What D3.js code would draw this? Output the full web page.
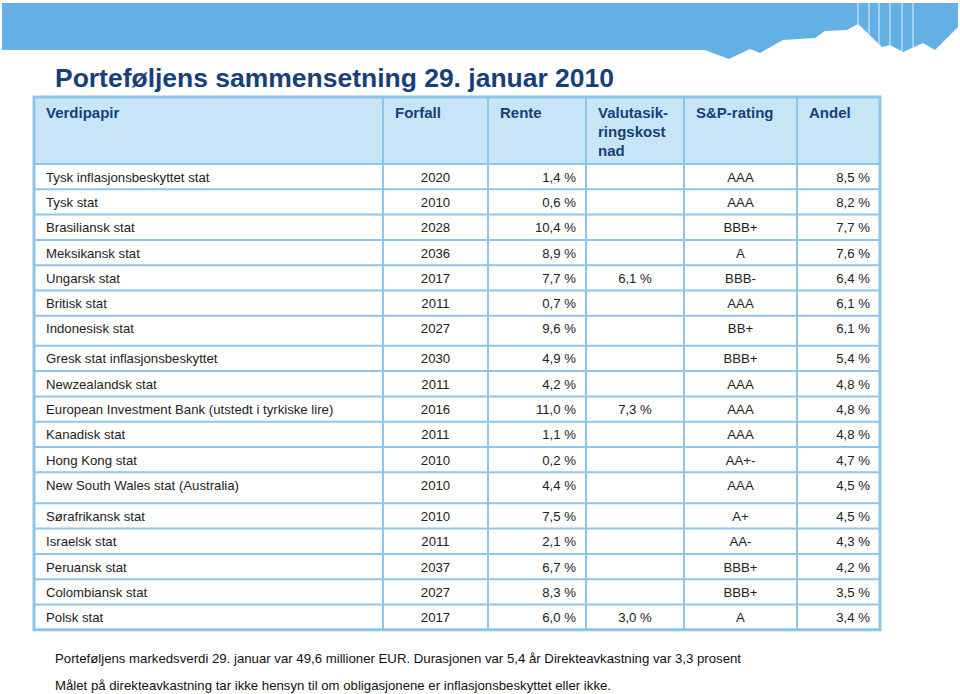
<!DOCTYPE html>
<html>
<head>
<meta charset="utf-8">
<script src="https://cdn.jsdelivr.net/npm/d3@7"></script>
<style>
  html, body { margin: 0; padding: 0; background: #fff; }
  svg { display: block; }
</style>
</head>
<body>
<div id="chart"></div>
<script>
// ---------- data ----------
const title = "Porteføljens sammensetning 29. januar 2010";
const headers = [["Verdipapir"], ["Forfall"], ["Rente"], ["Valutasik-", "ringskost", "nad"], ["S&P-rating"], ["Andel"]];
const securities = [
  "Tysk inflasjonsbeskyttet stat", "Tysk stat", "Brasiliansk stat", "Meksikansk stat",
  "Ungarsk stat", "Britisk stat", "Indonesisk stat", "Gresk stat inflasjonsbeskyttet",
  "Newzealandsk stat", "European Investment Bank (utstedt i tyrkiske lire)", "Kanadisk stat",
  "Hong Kong stat", "New South Wales stat (Australia)", "Sørafrikansk stat", "Israelsk stat",
  "Peruansk stat", "Colombiansk stat", "Polsk stat"
];
const maturities = [2020, 2010, 2028, 2036, 2017, 2011, 2027, 2030, 2011, 2016, 2011, 2010, 2010, 2010, 2011, 2037, 2027, 2017];
const coupons = [1.4, 0.6, 10.4, 8.9, 7.7, 0.7, 9.6, 4.9, 4.2, 11.0, 1.1, 0.2, 4.4, 7.5, 2.1, 6.7, 8.3, 6.0];
const hedgeCosts = [null, null, null, null, 6.1, null, null, null, null, 7.3, null, null, null, null, null, null, null, 3.0];
const ratings = ["AAA", "AAA", "BBB+", "A", "BBB-", "AAA", "BB+", "BBB+", "AAA", "AAA", "AAA", "AA+-", "AAA", "A+", "AA-", "BBB+", "BBB+", "A"];
const shares = [8.5, 8.2, 7.7, 7.6, 6.4, 6.1, 6.1, 5.4, 4.8, 4.8, 4.8, 4.7, 4.5, 4.5, 4.3, 4.2, 3.5, 3.4];
const footnotes = [
  "Porteføljens markedsverdi 29. januar var 49,6 millioner EUR. Durasjonen var 5,4 år Direkteavkastning var 3,3 prosent",
  "Målet på direkteavkastning tar ikke hensyn til om obligasjonene er inflasjonsbeskyttet eller ikke."
];

// ---------- layout ----------
const W = 960, H = 694;
const colEdges = [34, 383, 488, 586, 684, 797, 880];
const headerTop = 97, headerBottom = 164;
const baseRow = 25.3;
const tallRows = {6: 30, 12: 31};
const rowH = securities.map((d, i) => tallRows[i] || baseRow);
const rowTops = [];
{ let y = headerBottom; rowH.forEach(h => { rowTops.push(y); y += h; }); rowTops.push(y); }

const fmtPct = v => d3.format(".1f")(v).replace(".", ",") + " %";

const blue = "#62b0e4";
const border = "#8ec5ea";
const headFill = "#c8e5f8";
const navy = "#173f7a";
const textCol = "#222";
const fontBody = "'Liberation Sans', Arial, Helvetica, sans-serif";

const svg = d3.select("#chart").append("svg").attr("width", W).attr("height", H);

// ---------- banner ----------
const bannerPts = [[2,3],[958,3],[958,27],[935,50],[923,43],[903,52],[890,45],[882,47],[858,24],[847,30],[825,31],[815,38],[783,40],[760,53],[750,49],[729,59],[705,50],[2,50]];
svg.append("path").attr("d", d3.line()(bannerPts) + "Z").attr("fill", blue);
const stripeXs = [858, 869, 879, 890, 902, 913];
// bottom y of the banner at a given x (from the outline)
function bannerBottom(x) {
  const pts = bannerPts.slice(2).reverse(); // left to right along bottom
  const sorted = pts.slice().sort((a, b) => a[0] - b[0]);
  for (let i = 0; i < sorted.length - 1; i++) {
    const a = sorted[i], b = sorted[i + 1];
    if (x >= a[0] && x <= b[0]) return a[1] + (b[1] - a[1]) * (x - a[0]) / (b[0] - a[0] || 1);
  }
  return 50;
}
svg.selectAll("line.stripe").data(stripeXs).join("line")
  .attr("class", "stripe")
  .attr("x1", d => d).attr("x2", d => d)
  .attr("y1", 3).attr("y2", d => bannerBottom(d))
  .attr("stroke", "#ffffff").attr("stroke-width", 1).attr("opacity", 0.85);

// ---------- title ----------
svg.append("text")
  .attr("x", 55).attr("y", 87)
  .attr("font-family", fontBody).attr("font-weight", "bold").attr("font-size", 26.5)
  .attr("fill", navy)
  .attr("textLength", 559).attr("lengthAdjust", "spacingAndGlyphs")
  .text(title);

// ---------- table ----------
const tableBottom = rowTops[rowTops.length - 1];
svg.append("rect")
  .attr("x", colEdges[0]).attr("y", headerTop)
  .attr("width", colEdges[6] - colEdges[0]).attr("height", headerBottom - headerTop)
  .attr("fill", headFill);

// header text
const hdr = svg.append("g");
headers.forEach((lines, c) => {
  lines.forEach((ln, k) => {
    hdr.append("text")
      .attr("x", colEdges[c] + 12).attr("y", 117.5 + k * 19)
      .attr("font-family", fontBody).attr("font-weight", "bold").attr("font-size", 15)
      .attr("fill", navy)
      .text(ln);
  });
});

// rows text
const rows = svg.append("g");
securities.forEach((s, i) => {
  const y = rowTops[i] + 13;
  const g = rows.append("g").attr("font-family", fontBody).attr("font-size", 13.2).attr("fill", textCol);
  g.append("text").attr("x", 46).attr("y", y).attr("dy", "0.35em").text(s);
  g.append("text").attr("x", (colEdges[1] + colEdges[2]) / 2).attr("y", y).attr("dy", "0.35em")
    .attr("text-anchor", "middle").text(maturities[i]);
  g.append("text").attr("x", colEdges[3] - 10).attr("y", y).attr("dy", "0.35em")
    .attr("text-anchor", "end").text(fmtPct(coupons[i]));
  if (hedgeCosts[i] != null) {
    g.append("text").attr("x", (colEdges[3] + colEdges[4]) / 2).attr("y", y).attr("dy", "0.35em")
      .attr("text-anchor", "middle").text(fmtPct(hedgeCosts[i]));
  }
  g.append("text").attr("x", (colEdges[4] + colEdges[5]) / 2).attr("y", y).attr("dy", "0.35em")
    .attr("text-anchor", "middle").text(ratings[i]);
  g.append("text").attr("x", colEdges[6] - 10).attr("y", y).attr("dy", "0.35em")
    .attr("text-anchor", "end").text(fmtPct(shares[i]));
});

// grid lines
const grid = svg.append("g").attr("stroke", border).attr("stroke-width", 2).attr("fill", "none");
[headerBottom, ...rowTops.slice(1, -1)].forEach(y => {
  grid.append("line").attr("x1", colEdges[0]).attr("x2", colEdges[6]).attr("y1", y).attr("y2", y);
});
colEdges.slice(1, -1).forEach(x => {
  grid.append("line").attr("x1", x).attr("x2", x).attr("y1", headerTop).attr("y2", tableBottom);
});
grid.append("rect")
  .attr("x", colEdges[0]).attr("y", headerTop)
  .attr("width", colEdges[6] - colEdges[0]).attr("height", tableBottom - headerTop)
  .attr("stroke-width", 3);

// ---------- footnotes ----------
const fnY = [663, 690];
const fnW = [686, 556];
footnotes.forEach((t, i) => {
  svg.append("text")
    .attr("x", 55).attr("y", fnY[i])
    .attr("font-family", fontBody).attr("font-size", 13).attr("fill", "#111")
    .attr("textLength", fnW[i]).attr("lengthAdjust", "spacingAndGlyphs")
    .text(t);
});
</script>
</body>
</html>
